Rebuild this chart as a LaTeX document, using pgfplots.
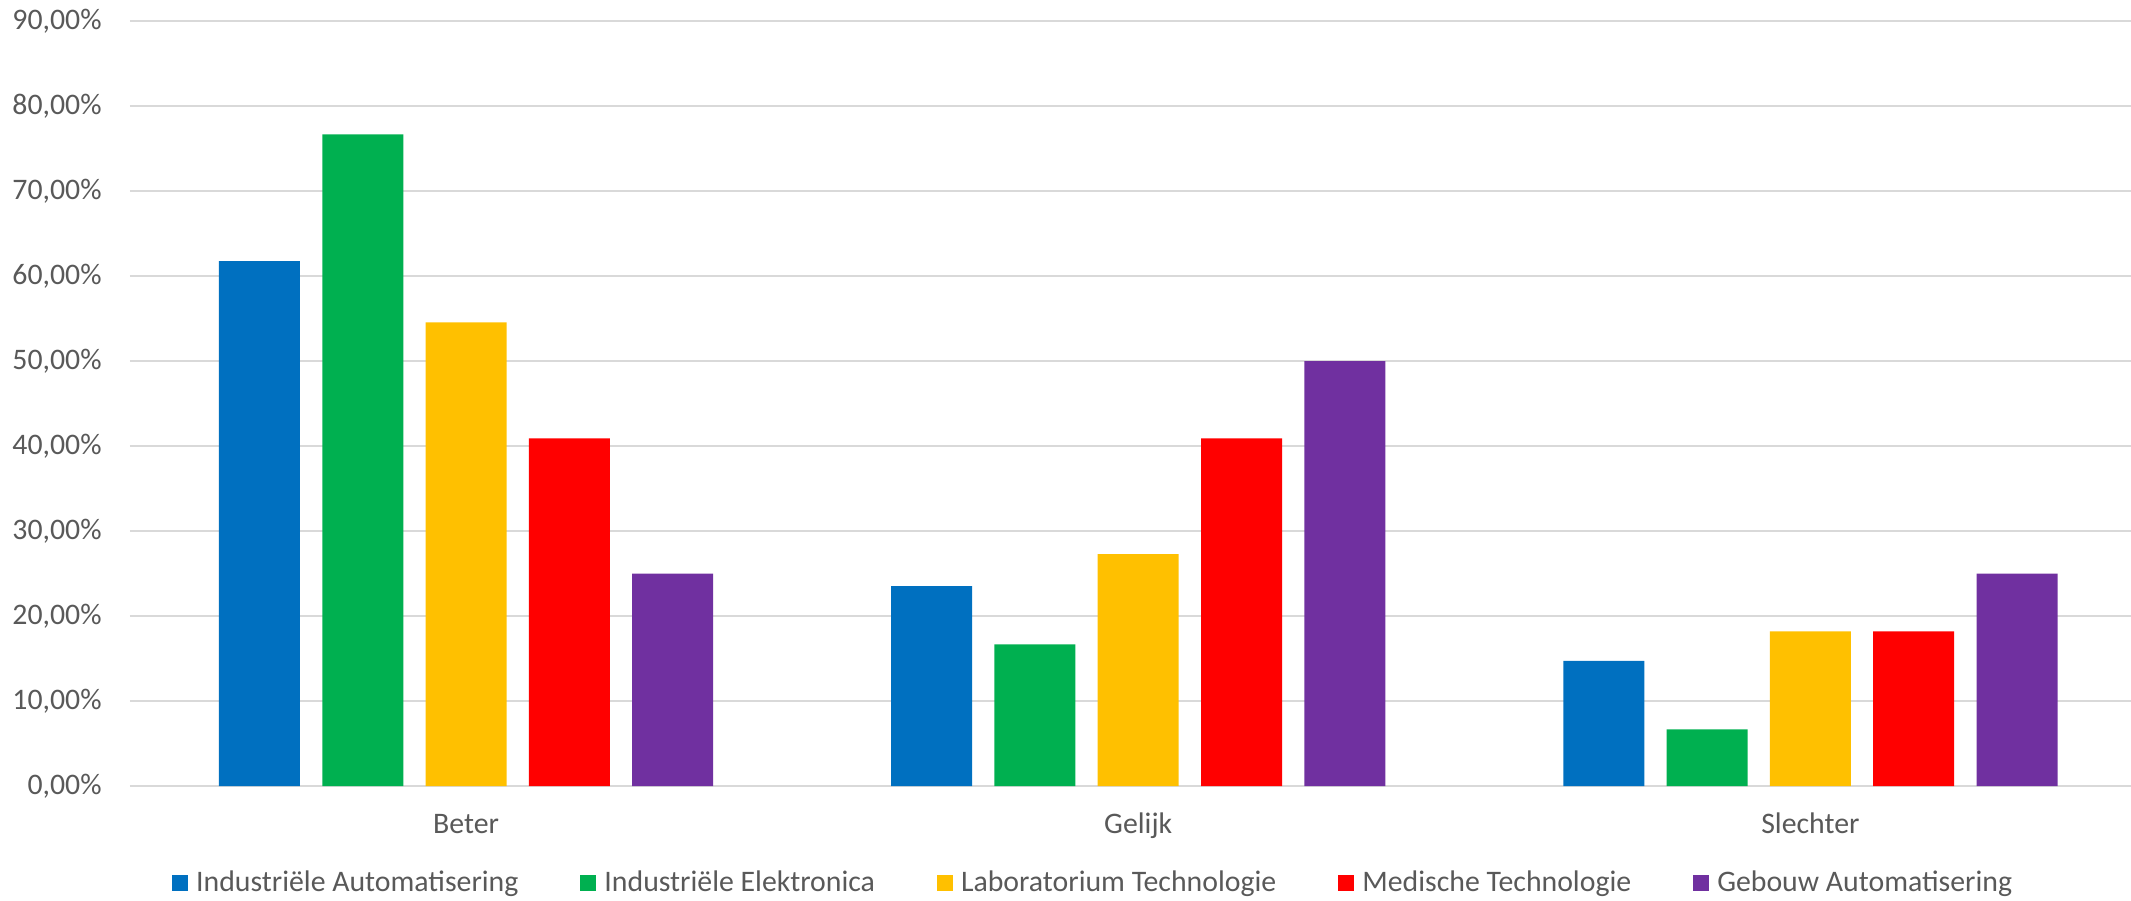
\documentclass[border=0pt]{standalone}
\usepackage{fontspec}
\setmainfont{Carlito}
\usepackage{pgfplots}
\pgfplotsset{compat=1.18}

\definecolor{iaBlue}{HTML}{0070C0}
\definecolor{ieGreen}{HTML}{00B050}
\definecolor{ltYellow}{HTML}{FFC000}
\definecolor{mtRed}{HTML}{FF0000}
\definecolor{gaPurple}{HTML}{7030A0}
\definecolor{gridgray}{HTML}{D9D9D9}
\definecolor{txtgray}{HTML}{595959}

\newcommand{\lbl}{\fontsize{14.9}{17.5}\selectfont}

\pgfplotsset{
  sq legend/.style={legend image code/.code={\fill[##1,draw=none] (0pt,-4pt) rectangle (8pt,4pt);}},
}

\begin{document}
\begin{tikzpicture}
\useasboundingbox (-65pt,-57pt) rectangle (1000.5pt,393pt);
\begin{axis}[
  at={(0pt,0pt)}, anchor=south west,
  scale only axis, width=1000.5pt, height=382.5pt,
  xmin=-0.5, xmax=2.477, ymin=0, ymax=90,
  ybar, bar width=0.1205,
  xtick={0,1,2}, xticklabels={Beter,Gelijk,Slechter},
  ytick={0,10,20,30,40,50,60,70,80,90},
  yticklabels={{0,00\%},{10,00\%},{20,00\%},{30,00\%},{40,00\%},{50,00\%},{60,00\%},{70,00\%},{80,00\%},{90,00\%}},
  axis line style={draw=none}, major tick length=0pt,
  ymajorgrids, grid style={draw=gridgray, line width=1pt},
  tick label style={font=\lbl, text=txtgray},
  yticklabel style={anchor=east, inner sep=0pt, xshift=-14pt},
  xticklabel style={anchor=base, inner sep=0pt, yshift=-23.5pt},
  legend columns=5,
  legend style={draw=none, fill=none, at={(0.4808,-0.1268)}, anchor=center,
    font=\lbl, text=txtgray, inner sep=0pt,
    nodes={inner sep=0pt},
    /tikz/every odd column/.append style={column sep=4pt},
    /tikz/every even column/.append style={column sep=31pt}},
]
\addplot[fill=iaBlue, draw=none, bar shift=-0.3074, sq legend] coordinates {(0,61.76) (1,23.53) (2,14.71)};
\addplot[fill=ieGreen, draw=none, bar shift=-0.1537, sq legend] coordinates {(0,76.67) (1,16.67) (2,6.67)};
\addplot[fill=ltYellow, draw=none, bar shift=0, sq legend] coordinates {(0,54.55) (1,27.27) (2,18.18)};
\addplot[fill=mtRed, draw=none, bar shift=0.1537, sq legend] coordinates {(0,40.91) (1,40.91) (2,18.18)};
\addplot[fill=gaPurple, draw=none, bar shift=0.3074, sq legend] coordinates {(0,25.00) (1,50.00) (2,25.00)};
\legend{Industriële Automatisering, Industriële Elektronica, Laboratorium Technologie, Medische Technologie, Gebouw Automatisering}
\end{axis}
\end{tikzpicture}
\end{document}
